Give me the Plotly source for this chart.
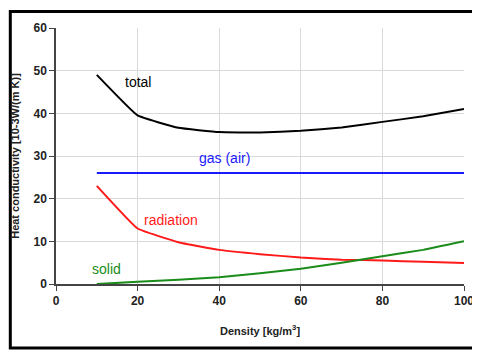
import plotly.graph_objects as go

# Data
density = [10, 20, 30, 40, 50, 60, 70, 80, 90, 100]
total = [49, 39.5, 36.6, 35.6, 35.5, 35.9, 36.7, 38.0, 39.3, 41.0]
gas_air = [26, 26, 26, 26, 26, 26, 26, 26, 26, 26]
radiation = [23, 13, 9.8, 8.0, 7.0, 6.2, 5.7, 5.5, 5.2, 4.9]
solid = [0, 0.5, 1.0, 1.6, 2.5, 3.6, 5.0, 6.5, 8.0, 10.0]

series = [
    ("total", total, "black"),
    ("gas (air)", gas_air, "#1a1aff"),
    ("radiation", radiation, "#ff1a1a"),
    ("solid", solid, "#1a8c1a"),
]
# label positions (data coords)
label_pos = {
    "total": (20.2, 47.3),
    "gas (air)": (41.4, 29.5),
    "radiation": (28.2, 15.0),
    "solid": (12.3, 3.5),
}

font = "Liberation Sans, Arial, sans-serif"

fig = go.Figure()
for name, ys, color in series:
    fig.add_trace(go.Scatter(
        x=density, y=ys, mode="lines", name=name,
        line=dict(color=color, width=2, shape="spline", smoothing=0.3),
    ))
    lx, ly = label_pos[name]
    fig.add_annotation(x=lx, y=ly, text=name, showarrow=False,
                       font=dict(family=font, size=14, color=color))

axis_common = dict(
    showgrid=True, gridcolor="#d9d9d9", gridwidth=1,
    showline=True, linecolor="#444", linewidth=1.5,
    ticks="outside", tickcolor="#444", ticklen=5,
    tickfont=dict(family=font, size=12, color="#222", weight="bold"),
    zeroline=False, automargin=False,
)

fig.update_xaxes(range=[0, 100], dtick=20, **axis_common,
                 title=dict(text="Density [kg/m<sup>3</sup>]",
                            font=dict(family=font, size=11, color="#222", weight="bold"),
                            standoff=20))
fig.update_yaxes(range=[0, 60], dtick=10, **axis_common,
                 title=dict(text="Heat conductivity [10-3W/(m K)]",
                            font=dict(family=font, size=11, color="#222", weight="bold"),
                            standoff=12))

# outer frame
fig.add_shape(type="rect", xref="paper", yref="paper",
              x0=-0.112, x1=1.0245, y0=-0.25, y1=1.064,
              line=dict(color="black", width=3))

# the page adds an 8px body margin, so the figure is a bit smaller than the window
fig.update_layout(
    width=472, height=345,
    margin=dict(l=48, r=16, t=20, b=69),
    paper_bgcolor="white", plot_bgcolor="white",
    showlegend=False,
)

fig.write_html("out.html")
